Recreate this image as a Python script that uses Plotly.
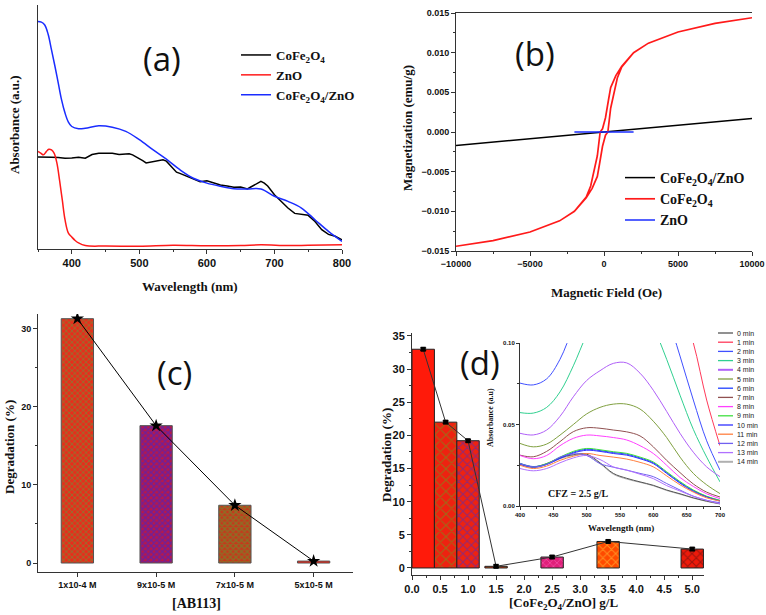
import plotly.graph_objects as go

W, H = 766, 615
def px(x): return x / W
def py(y): return 1 - y / H

# ---------------- Panel (a) UV-Vis ----------------
wl_cfo = [350, 360, 370, 380, 390, 400, 410, 420, 430, 440, 450, 460, 470, 480, 485, 490, 500, 505, 510, 515, 520, 528, 535, 540, 545, 550, 555, 560, 570, 580, 590, 600, 605, 610, 620, 630, 640, 650, 660, 665, 670, 675, 680, 685, 690, 700, 710, 720, 730, 740, 750, 760, 770, 780, 790, 800]
ab_cfo = [0.377, 0.378, 0.376, 0.375, 0.372, 0.373, 0.376, 0.372, 0.387, 0.392, 0.393, 0.392, 0.387, 0.391, 0.390, 0.386, 0.372, 0.362, 0.353, 0.356, 0.360, 0.363, 0.366, 0.360, 0.345, 0.328, 0.315, 0.310, 0.299, 0.285, 0.276, 0.280, 0.276, 0.270, 0.262, 0.258, 0.253, 0.254, 0.246, 0.254, 0.262, 0.270, 0.277, 0.270, 0.258, 0.222, 0.195, 0.168, 0.146, 0.142, 0.138, 0.113, 0.079, 0.060, 0.052, 0.038]
wl_zno = [350, 354, 358, 362, 366, 370, 374, 378, 382, 386, 390, 395, 400, 405, 410, 420, 450, 500, 550, 600, 650, 680, 720, 750, 800]
ab_zno = [0.400, 0.393, 0.386, 0.398, 0.409, 0.406, 0.392, 0.352, 0.280, 0.200, 0.120, 0.065, 0.049, 0.035, 0.025, 0.014, 0.012, 0.011, 0.015, 0.013, 0.014, 0.017, 0.014, 0.015, 0.017]
wl_cz = [350, 355, 360, 365, 370, 375, 380, 385, 390, 395, 400, 410, 420, 440, 460, 480, 500, 520, 540, 560, 580, 600, 620, 640, 660, 680, 700, 720, 740, 760, 780, 800]
ab_cz = [0.932, 0.930, 0.918, 0.880, 0.816, 0.750, 0.680, 0.610, 0.557, 0.520, 0.502, 0.493, 0.495, 0.505, 0.499, 0.482, 0.448, 0.407, 0.368, 0.325, 0.290, 0.270, 0.257, 0.247, 0.246, 0.246, 0.216, 0.195, 0.168, 0.120, 0.072, 0.031]

# ---------------- Panel (b) M-H ----------------
h_cz = [-10000, 10000]
m_cz = [-0.0017, 0.0017]
h_loop = [10000, 7500, 5000, 3000, 2000, 1200, 800, 450, 300, 100, -100, -260, -450, -700, -900, -1200, -2000, -3000, -5000, -7500, -10000,
          -7500, -5000, -3000, -2000, -1200, -800, -450, -300, -100, 100, 260, 450, 700, 900, 1200, 2000, 3000, 5000, 7500, 10000]
m_loop = [0.0144, 0.0137, 0.0126, 0.0112, 0.0100, 0.0083, 0.0071, 0.0056, 0.0040, 0.0018, 0.0004, 0.0, -0.0030, -0.0053, -0.0068, -0.0082, -0.0100, -0.0112, -0.0126, -0.0137, -0.0144,
          -0.0137, -0.0126, -0.0112, -0.0100, -0.0083, -0.0071, -0.0056, -0.0040, -0.0018, -0.0004, 0.0, 0.0030, 0.0053, 0.0068, 0.0082, 0.0100, 0.0112, 0.0126, 0.0137, 0.0144]
h_zno = [-2000, 2000]
m_zno = [0.0, 0.0]

# ---------------- Panel (c) ----------------
c_cats = ["1x10-4 M", "9x10-5 M", "7x10-5 M", "5x10-5 M"]
c_vals = [31.3, 17.6, 7.4, 0.25]
c_bg = ["#e4301c", "#b81848", "#c43a1c", "#ff2010"]
c_fg = ["#48b040", "#2828e8", "#50a830", "#ff2010"]
c_shape = ["x", "x", "x", ""]
c_sol = [0.4, 0.6, 0.55, 0.3]

# ---------------- Panel (d) ----------------
d_x = [0.2, 0.6, 1.0, 1.5, 2.5, 3.5, 5.0]
d_vals = [33.0, 22.0, 19.2, 0.25, 1.65, 4.0, 2.85]
d_err = [0.2, 0.2, 0.2, 0.2, 0.2, 0.2, 0.2]
d_bg = ["#ff1a0a", "#ee2210", "#ee2210", "#e8300c", "#e0207a", "#ff4a00", "#ee1a0a"]
d_fg = ["#ff1a0a", "#50b020", "#3030e0", "#50b020", "#ff70c8", "#ffd040", "#501010"]
d_shape = ["", "x", "x", "x", "x", "x", "x"]
d_size = [6, 8, 6, 4, 5, 6, 6]
d_sol = [0.3, 0.25, 0.3, 0.4, 0.3, 0.3, 0.35]

# ---------------- Inset spectra ----------------
inset_wl = [400, 420, 440, 460, 480, 500, 520, 540, 560, 580, 600, 620, 640, 660, 680, 700]
inset_names = ["0 min", "1 min", "2 min", "3 min", "4 min", "5 min", "6 min", "7 min", "8 min", "9 min", "10 min", "11 min", "12 min", "13 min", "14 min"]
inset_colors = ["#555555", "#ff3a5a", "#4050ff", "#30d090", "#b060f8", "#80a040", "#2040ff", "#905050", "#ff40ff", "#40e040", "#3030ff", "#ff8040", "#7060f0", "#b070ff", "#b0b0b0"]
inset_widths = [1, 1, 1, 1, 1, 1, 1, 1, 1, 1, 1, 1, 1, 1, 1]
s0 = [0.026, 0.024, 0.026, 0.0295, 0.0315, 0.0318, 0.0265, 0.020, 0.017, 0.0148, 0.0127, 0.0098, 0.0075, 0.005, 0.003, 0.0014]
s1 = [0.12, 0.12, 0.13, 0.14, 0.16, 0.18, 0.19, 0.20, 0.20, 0.19, 0.17, 0.15, 0.125, 0.10, 0.065, 0.037]
s2 = [0.0754, 0.0743, 0.078, 0.090, 0.110, 0.130, 0.145, 0.155, 0.160, 0.155, 0.140, 0.118, 0.092, 0.065, 0.040, 0.022]
s3 = [0.0573, 0.057, 0.0605, 0.070, 0.086, 0.105, 0.120, 0.130, 0.130, 0.125, 0.110, 0.090, 0.068, 0.047, 0.030, 0.0148]
s4 = [0.0446, 0.0436, 0.0466, 0.055, 0.067, 0.077, 0.083, 0.0875, 0.0878, 0.0815, 0.071, 0.058, 0.0446, 0.033, 0.024, 0.018]
s5 = [0.0384, 0.0363, 0.038, 0.0435, 0.050, 0.0565, 0.0605, 0.0625, 0.0625, 0.0595, 0.052, 0.042, 0.030, 0.020, 0.013, 0.0076]
s6 = [0.0262, 0.0242, 0.0258, 0.0295, 0.033, 0.0348, 0.034, 0.0328, 0.0318, 0.0295, 0.0265, 0.0205, 0.0145, 0.0095, 0.0058, 0.0033]
s7 = [0.0312, 0.0302, 0.0335, 0.0395, 0.0456, 0.048, 0.0477, 0.0466, 0.0455, 0.043, 0.0363, 0.028, 0.0205, 0.0135, 0.0085, 0.0055]
s8 = [0.031, 0.029, 0.031, 0.037, 0.0415, 0.0435, 0.043, 0.042, 0.0405, 0.037, 0.0322, 0.025, 0.0175, 0.012, 0.0075, 0.0045]
s9 = [0.026, 0.024, 0.026, 0.030, 0.0335, 0.0353, 0.0345, 0.0333, 0.0323, 0.030, 0.027, 0.021, 0.015, 0.0098, 0.006, 0.0035]
s10 = [0.0255, 0.0238, 0.0255, 0.0292, 0.0325, 0.0342, 0.0335, 0.0322, 0.0312, 0.029, 0.026, 0.020, 0.014, 0.009, 0.0055, 0.003]
s11 = [0.025, 0.023, 0.0245, 0.028, 0.0305, 0.0322, 0.031, 0.030, 0.0288, 0.0268, 0.024, 0.0185, 0.013, 0.0085, 0.005, 0.003]
s12 = [0.026, 0.024, 0.0255, 0.030, 0.032, 0.031, 0.026, 0.0238, 0.022, 0.020, 0.018, 0.0138, 0.0098, 0.006, 0.0035, 0.002]
s13 = [0.023, 0.0216, 0.023, 0.0265, 0.0295, 0.031, 0.0285, 0.024, 0.022, 0.0195, 0.0168, 0.0125, 0.0092, 0.006, 0.0035, 0.0014]
s14 = [0.0255, 0.0235, 0.0255, 0.029, 0.031, 0.0312, 0.026, 0.0195, 0.0165, 0.0145, 0.0124, 0.0095, 0.0072, 0.0048, 0.0028, 0.0012]
inset_series = [s0, s1, s2, s3, s4, s5, s6, s7, s8, s9, s10, s11, s12, s13, s14]

TICKF = dict(family="Liberation Sans, Arial", color="#111", weight=700)
TITLEF = dict(family="Liberation Serif, Times New Roman", color="#111", weight=700)

fig = go.Figure()

# (a)
fig.add_trace(go.Scatter(x=wl_cfo, y=ab_cfo, mode="lines", name="CoFe<sub>2</sub>O<sub>4</sub>",
                         line=dict(color="black", width=1.5), xaxis="x", yaxis="y", legend="legend"))
fig.add_trace(go.Scatter(x=wl_zno, y=ab_zno, mode="lines", name="ZnO", line_shape="spline",
                         line=dict(color="#ff1a1a", width=1.5), xaxis="x", yaxis="y", legend="legend"))
fig.add_trace(go.Scatter(x=wl_cz, y=ab_cz, mode="lines", name="CoFe<sub>2</sub>O<sub>4</sub>/ZnO", line_shape="spline",
                         line=dict(color="#1a2cff", width=1.5), xaxis="x", yaxis="y", legend="legend"))
# (b)
fig.add_trace(go.Scatter(x=h_cz, y=m_cz, mode="lines", name="CoFe<sub>2</sub>O<sub>4</sub>/ZnO",
                         line=dict(color="black", width=1.5), xaxis="x2", yaxis="y2", legend="legend2"))
fig.add_trace(go.Scatter(x=h_loop, y=m_loop, mode="lines", name="CoFe<sub>2</sub>O<sub>4</sub>",
                         line=dict(color="#ff1a1a", width=1.7), xaxis="x2", yaxis="y2", legend="legend2"))
fig.add_trace(go.Scatter(x=h_zno, y=m_zno, mode="lines", name="ZnO",
                         line=dict(color="#1a2cff", width=1.5), xaxis="x2", yaxis="y2", legend="legend2"))
# (c)
fig.add_trace(go.Bar(x=c_cats, y=c_vals, width=0.41, xaxis="x3", yaxis="y3", showlegend=False,
                     marker=dict(color="#ff2010", line=dict(color="#555555", width=1),
                                 pattern=dict(shape=c_shape, bgcolor=c_bg, fgcolor=c_fg, size=4, solidity=c_sol))))
fig.add_trace(go.Scatter(x=c_cats, y=c_vals, mode="lines+markers", xaxis="x3", yaxis="y3", showlegend=False,
                         line=dict(color="black", width=1), marker=dict(symbol="star", size=10, color="black")))
# (d)
fig.add_trace(go.Bar(x=d_x, y=d_vals, width=0.4, xaxis="x4", yaxis="y4", showlegend=False,
                     error_y=dict(type="data", array=d_err, color="black", thickness=1, width=3),
                     marker=dict(color="#ff1a0a", line=dict(color="#222222", width=1),
                                 pattern=dict(shape=d_shape, bgcolor=d_bg, fgcolor=d_fg, size=d_size, solidity=d_sol))))
fig.add_trace(go.Scatter(x=d_x, y=d_vals, mode="lines+markers", xaxis="x4", yaxis="y4", showlegend=False,
                         line=dict(color="#333333", width=1), marker=dict(symbol="square", size=5, color="black")))
# inset (14 min drawn first, underneath)
order = [14] + list(range(14))
for i in order:
    fig.add_trace(go.Scatter(x=inset_wl, y=inset_series[i], mode="lines", line_shape="spline", name=inset_names[i],
                             showlegend=False, line=dict(color=inset_colors[i], width=inset_widths[i]),
                             xaxis="x5", yaxis="y5"))

def axis(domain, rng, anchor, size, **kw):
    d = dict(domain=domain, range=rng, anchor=anchor, showline=True, linecolor="#333", linewidth=1,
             ticks="outside", ticklen=4, tickcolor="#333", showgrid=False, zeroline=False, automargin=False,
             tickfont=dict(size=size, **TICKF))
    d.update(kw)
    return d

fig.update_layout(
    width=W, height=H, margin=dict(l=0, r=0, t=0, b=0, pad=0, autoexpand=False),
    paper_bgcolor="white", plot_bgcolor="rgba(0,0,0,0)",
    xaxis=axis([px(38), px(342)], [350, 800], "y", 11, dtick=100, tick0=400,
               minor=dict(ticks="outside", ticklen=2, dtick=50, tickcolor="#333")),
    yaxis=axis([py(249), py(5)], [0, 1], "x", 11, ticks="", showticklabels=False),
    xaxis2=axis([px(456), px(752)], [-10000, 10000], "y2", 9, dtick=5000, mirror=True, tickformat="d",
                minor=dict(ticks="outside", ticklen=2, dtick=2500, tickcolor="#333")),
    yaxis2=axis([py(251), py(13)], [-0.015, 0.015], "x2", 9, dtick=0.005, tickformat=".3f",
                minor=dict(ticks="outside", ticklen=2, dtick=0.0025, tickcolor="#333")),
    xaxis3=axis([px(38), px(353)], [-0.5, 3.5], "y3", 9, type="category"),
    yaxis3=axis([py(572), py(314)], [-1.15, 31.9], "x3", 9, dtick=10,
                minor=dict(ticks="outside", ticklen=2, dtick=5, tickcolor="#333")),
    xaxis4=axis([px(412), px(704)], [0, 5.21], "y4", 11, dtick=0.5, tickformat=".1f",
                minor=dict(ticks="outside", ticklen=2, dtick=0.25, tickcolor="#333")),
    yaxis4=axis([py(575), py(333)], [-1.06, 35.45], "x4", 11, dtick=5,
                minor=dict(ticks="outside", ticklen=2, dtick=2.5, tickcolor="#333")),
    xaxis5=axis([px(520), px(720)], [400, 700], "y5", 6, dtick=50, ticklen=3,
                minor=dict(ticks="outside", ticklen=2, dtick=25, tickcolor="#333")),
    yaxis5=axis([py(506), py(343)], [0, 0.10], "x5", 6, dtick=0.05, tickformat=".2f", ticklen=3,
                minor=dict(ticks="outside", ticklen=2, dtick=0.025, tickcolor="#333")),
    legend=dict(x=px(236), y=py(40), xanchor="left", yanchor="top", bgcolor="rgba(0,0,0,0)",
                font=dict(size=13, **TITLEF), itemwidth=30, tracegroupgap=0),
    legend2=dict(x=px(620), y=py(162), xanchor="left", yanchor="top", bgcolor="rgba(0,0,0,0)",
                 font=dict(size=14, **TITLEF), itemwidth=30, tracegroupgap=0),
)

ann = []
def txt(x, y, s, size, font, angle=0, xanchor="center"):
    ann.append(dict(x=px(x), y=py(y), xref="paper", yref="paper", text=s, showarrow=False,
                    textangle=angle, xanchor=xanchor, yanchor="middle", font=dict(size=size, **font)))

LABF = dict(family="Open Sans, Noto Sans", color="#111")
txt(162, 58, "(a)", 33, LABF)
txt(535, 53, "(b)", 33, LABF)
txt(174, 372, "(c)", 33, LABF)
txt(480, 362, "(d)", 33, LABF)

txt(14, 125, "Absorbance (a.u.)", 13, TITLEF, angle=-90)
txt(190, 286, "Wavelength (nm)", 13, TITLEF)
txt(407, 128, "Magnetization (emu/g)", 13, TITLEF, angle=-90)
txt(606, 292, "Magnetic Field (Oe)", 13, TITLEF)
txt(9, 447, "Degradation (%)", 13, TITLEF, angle=-90)
txt(196, 603, "[AB113]", 14, TITLEF)
txt(386, 455, "Degradation (%)", 13, TITLEF, angle=-90)
txt(563, 603, "[CoFe<sub>2</sub>O<sub>4</sub>/ZnO] g/L", 13, TITLEF)
txt(490, 418, "Absorbance (a.u)", 8, TITLEF, angle=-90)
txt(621, 528, "Wavelength (nm)", 9, TITLEF)
txt(546, 493, "CFZ = 2.5 g/L", 10, TITLEF, xanchor="left")

# inset legend (drawn manually: compact spacing)
shapes = []
for i, (name, col, wdt) in enumerate(zip(inset_names, inset_colors, inset_widths)):
    yy = 333 + i * 9.2
    shapes.append(dict(type="line", xref="paper", yref="paper", x0=px(718), x1=px(733), y0=py(yy), y1=py(yy),
                       line=dict(color=col, width=wdt + (1 if i in (4, 14) else 0.3))))
    txt(735, yy, name, 7, dict(family="Liberation Sans, Arial", color="#222"), xanchor="left")

fig.update_layout(annotations=ann, shapes=shapes)
fig.write_html("out.html", config={"displayModeBar": False},
               post_script="document.body.style.margin='0';document.body.style.overflow='hidden';")
